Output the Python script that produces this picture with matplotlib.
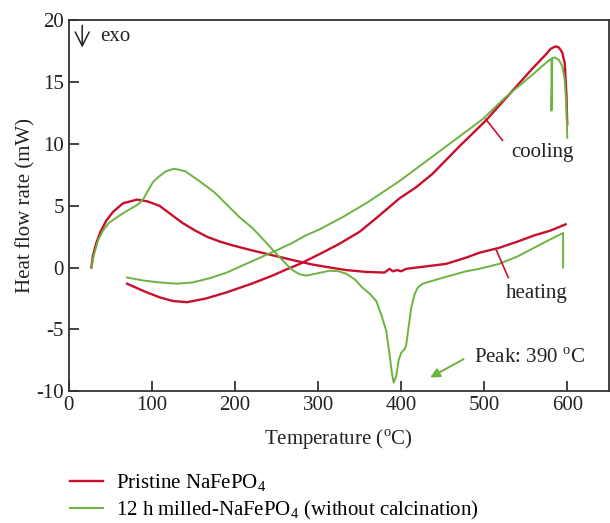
import matplotlib.pyplot as plt

plt.rcParams['font.family'] = ['Liberation Serif', 'DejaVu Serif']
plt.rcParams['mathtext.fontset'] = 'custom'
plt.rcParams['mathtext.rm'] = 'Liberation Serif'
plt.rcParams['axes.unicode_minus'] = False

# Pristine NaFePO4 - heating and cooling runs
red_heat_x = [27, 29, 33, 38, 45, 53, 65, 82, 95, 109, 123, 137, 152, 166, 182, 197, 220, 245, 270,
              293, 315, 334, 358, 380, 386, 390, 395, 400, 406, 430, 454, 478, 494, 518, 540,
              560, 580, 598]
red_heat_y = [0, 1.0, 2.0, 2.9, 3.8, 4.5, 5.2, 5.5, 5.35, 5.0, 4.3, 3.6, 3.0, 2.5, 2.1, 1.8, 1.4, 1.0, 0.6,
              0.25, 0.0, -0.2, -0.35, -0.4, -0.1, -0.3, -0.2, -0.3, -0.1, 0.1, 0.3, 0.8, 1.2, 1.6, 2.1,
              2.6, 3.0, 3.5]
red_cool_x = [600, 599, 597, 594, 590, 586, 580, 575, 558, 526, 502, 470, 438, 418, 398, 384, 370,
              350, 325, 302, 278, 260, 245, 220, 190, 165, 142, 125, 109, 90, 70]
red_cool_y = [11.6, 14.0, 16.5, 17.4, 17.8, 17.9, 17.7, 17.3, 16.1, 13.7, 11.9, 9.8, 7.6, 6.5, 5.6, 4.8, 4.0,
              2.9, 1.9, 1.1, 0.3, -0.2, -0.65, -1.3, -2.0, -2.5, -2.8, -2.7, -2.4, -1.9, -1.3]

# 12 h milled NaFePO4 - heating and cooling runs
green_heat_x = [27, 30, 35, 41, 48, 55, 63, 70, 78, 85, 90, 95, 101, 108, 117, 127, 140, 157, 175, 190,
                205, 221, 235, 250, 260, 269, 278, 286, 300, 314, 325, 334, 345, 353, 362, 370, 376,
                382, 386, 389, 391, 394, 397, 400, 404, 406, 409, 412, 416, 420, 426, 446, 478, 494,
                518, 540, 560, 580, 595, 595]
green_heat_y = [0, 1.0, 2.2, 3.0, 3.6, 3.95, 4.3, 4.6, 4.9, 5.2, 5.6, 6.2, 6.9, 7.35, 7.8, 8.0, 7.8, 7.0,
                6.1, 5.1, 4.1, 3.2, 2.2, 1.1, 0.4, -0.2, -0.55, -0.65, -0.45, -0.25, -0.3, -0.5, -1.0,
                -1.6, -2.1, -2.7, -3.8, -5.1, -7.0, -8.6, -9.3, -8.8, -7.5, -6.9, -6.6, -6.3, -4.8, -3.3,
                -2.2, -1.6, -1.3, -0.9, -0.3, -0.1, 0.3, 0.9, 1.6, 2.3, 2.8, 0.0]
green_cool_x = [600, 599, 597, 594, 590, 585, 582, 581, 581, 575, 558, 526, 498, 460, 430, 398, 360,
                330, 302, 285, 269, 250, 230, 210, 190, 170, 149, 130, 109, 90, 70]
green_cool_y = [10.5, 13.0, 15.2, 16.3, 16.8, 17.0, 16.95, 12.7, 16.9, 16.6, 15.6, 13.8, 12.0, 10.1, 8.6, 7.0, 5.3,
                4.1, 3.1, 2.6, 2.0, 1.4, 0.8, 0.2, -0.4, -0.85, -1.2, -1.3, -1.2, -1.05, -0.8]

red = '#c8102e'
green = '#6cb33f'
txt = '#222222'

fig = plt.figure(figsize=(6.1, 5.23), dpi=100)
ax = fig.add_axes([0.113, 0.252, 0.885, 0.709])

ax.plot(red_heat_x, red_heat_y, color=red, lw=1.7, label='Pristine NaFePO$_4$')
ax.plot(red_cool_x, red_cool_y, color=red, lw=1.7)
ax.plot(green_heat_x, green_heat_y, color=green, lw=1.4,
        label='12 h milled-NaFePO$_4$ (without calcination)')
ax.plot(green_cool_x, green_cool_y, color=green, lw=1.4)

# labels for the cooling / heating branches
ax.plot([502, 522], [12.0, 10.3], color=red, lw=1.2)
ax.text(570, 9.3, 'cooling', fontsize=15, ha='center', va='center', color=txt)
ax.plot([514, 529], [1.5, -0.8], color=red, lw=1.2)
ax.text(563, -2.1, 'heating', fontsize=15, ha='center', va='center', color=txt)

ax.annotate('', xy=(432, -9.0), xytext=(478, -7.3),
            arrowprops=dict(arrowstyle='-|>', color=green, lw=1.4, mutation_scale=14))
ax.text(488, -7.3, 'Peak: 390 $^{\\rm o}$C', fontsize=15, ha='left', va='center', color=txt)

ax.text(38, 18.7, 'exo', fontsize=15, ha='left', va='center', color=txt)
ax.annotate('', xy=(16, 17.8), xytext=(16, 19.6),
            arrowprops=dict(arrowstyle='->,head_length=0.5,head_width=0.25', color=txt, lw=1.1,
                            mutation_scale=20, shrinkA=0, shrinkB=0))

ax.set_xlim(0, 650)
ax.set_ylim(-10, 20)
ax.set_xticks(range(0, 700, 100))
ax.set_yticks(range(-10, 25, 5))
ax.tick_params(direction='in', length=7, width=1.2, labelsize=15, colors=txt,
               top=False, right=False)
for s in ax.spines.values():
    s.set_linewidth(1.3)
    s.set_color('#333333')

ax.set_xlabel('Temperature ($^{\\rm o}$C)', fontsize=15, color=txt, labelpad=9)
ax.set_ylabel('Heat flow rate (mW)', fontsize=15, color=txt, labelpad=1)

fig.legend(loc='upper left', bbox_to_anchor=(0.114, 0.097), frameon=False, fontsize=15,
           handlelength=1.6, handletextpad=0.65, labelspacing=0.25, borderpad=0, borderaxespad=0)

fig.savefig('out.png', dpi=100)
